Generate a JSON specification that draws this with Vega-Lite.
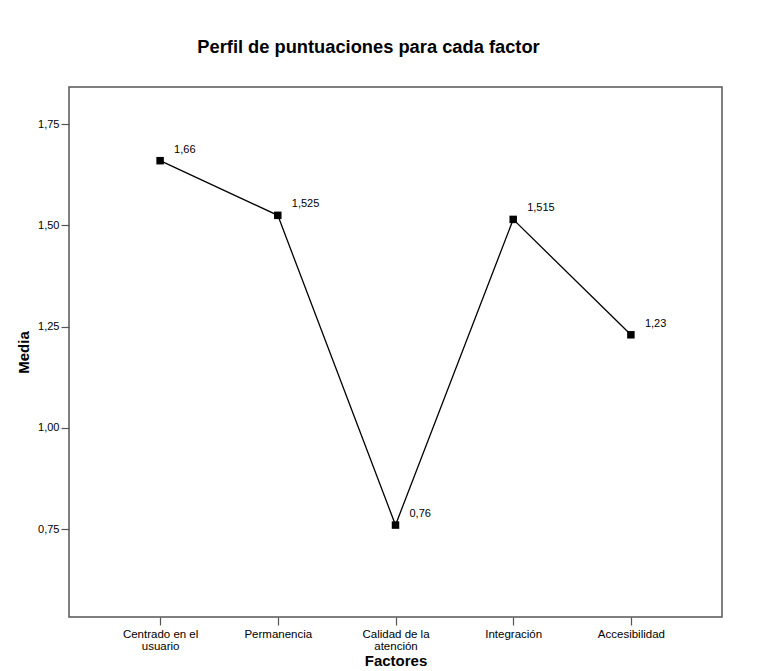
{
  "$schema": "https://vega.github.io/schema/vega-lite/v6.json",
  "autosize": {"type": "none"},
  "width": 653,
  "height": 530,
  "padding": {"left": 69, "top": 87, "right": 45, "bottom": 54},
  "background": "white",
  "title": {
    "text": "Perfil de puntuaciones para cada factor",
    "font": "Liberation Sans",
    "fontSize": 18.3,
    "fontWeight": "bold",
    "color": "#000000",
    "baseline": "alphabetic",
    "offset": 16,
    "dx": -27
  },
  "data": {
    "values": [
      {"factor": "Centrado en el usuario", "media": 1.66},
      {"factor": "Permanencia", "media": 1.525},
      {"factor": "Calidad de la atención", "media": 0.76},
      {"factor": "Integración", "media": 1.515},
      {"factor": "Accesibilidad", "media": 1.23}
    ]
  },
  "encoding": {
    "x": {
      "field": "factor",
      "type": "nominal",
      "sort": null,
      "scale": {"type": "point", "padding": 0.774},
      "axis": {
        "title": "Factores",
        "labelAngle": 0,
        "labelExpr": "datum.label == 'Centrado en el usuario' ? ['Centrado en el', 'usuario'] : datum.label == 'Calidad de la atención' ? ['Calidad de la', 'atención'] : datum.label",
        "labelLineHeight": 12,
        "labelPadding": 3,
        "titlePadding": 2
      }
    },
    "y": {
      "field": "media",
      "type": "quantitative",
      "scale": {"domain": [0.533, 1.842], "nice": false, "zero": false},
      "axis": {
        "title": "Media",
        "values": [0.75, 1.0, 1.25, 1.5, 1.75],
        "labelExpr": "replace(format(datum.value, '.2f'), '.', ',')",
        "labelPadding": 2,
        "titlePadding": 6
      }
    }
  },
  "layer": [
    {"mark": {"type": "line", "color": "#000000", "strokeWidth": 1.3}},
    {"mark": {"type": "square", "color": "#000000", "filled": true, "opacity": 1, "size": 56}},
    {
      "mark": {"type": "text", "align": "left", "baseline": "alphabetic", "dx": 14, "dy": -8, "font": "Liberation Sans", "fontSize": 11, "color": "#000000"},
      "encoding": {"text": {"field": "label", "type": "nominal"}},
      "transform": [{"calculate": "replace(toString(datum.media), '.', ',')", "as": "label"}]
    }
  ],
  "config": {
    "view": {"stroke": "#555555", "strokeWidth": 1.5},
    "axis": {
      "domain": false,
      "grid": false,
      "tickColor": "#555555",
      "tickSize": 8,
      "tickWidth": 1.2,
      "labelFont": "Liberation Sans",
      "labelFontSize": 11,
      "labelColor": "#000000",
      "titleFont": "Liberation Sans",
      "titleFontSize": 15,
      "titleFontWeight": "bold",
      "titleColor": "#000000"
    },
    "axisX": {"labelFontSize": 11.5}
  }
}
